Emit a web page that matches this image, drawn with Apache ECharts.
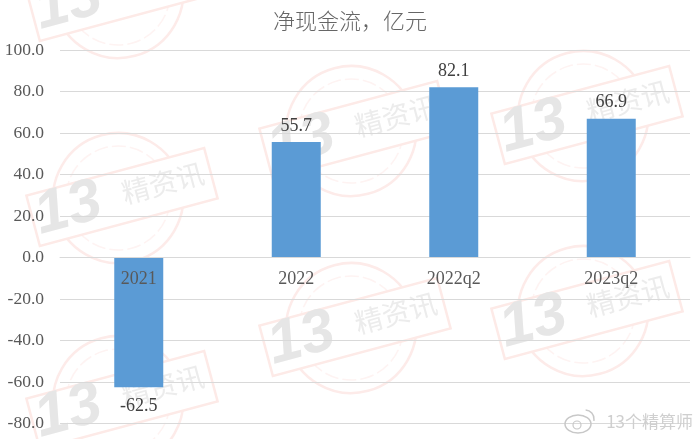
<!DOCTYPE html>
<html>
<head>
<meta charset="utf-8">
<title>净现金流</title>
<script src="https://cdn.jsdelivr.net/npm/echarts@6/dist/echarts.min.js"></script>
<style>
html,body{margin:0;padding:0;background:#fff;}
#main{width:700px;height:439px;}
</style>
</head>
<body>
<div id="main"></div>
<script>
var categories = ['2021', '2022', '2022q2', '2023q2'];
var cashFlow = [-62.5, 55.7, 82.1, 66.9];
var titleText = '净现金流，亿元';
var stampNumber = '13';
var stampName = '精资讯';
var accountName = '13个精算师';

var serifFont = '"Liberation Serif", "Noto Sans CJK SC", serif';
var cjkFont = '"Noto Sans CJK SC", sans-serif';

// 水印印章
function makeStamp(x, y) {
    return {
        type: 'group',
        x: x,
        y: y,
        rotation: 15 * Math.PI / 180,
        silent: true,
        children: [
            {type: 'circle', z: -10, x: -4, y: 0, shape: {cx: 0, cy: 0, r: 65}, style: {fill: 'none', stroke: '#fdebe9', lineWidth: 2.5}},
            {type: 'circle', z: -10, x: -4, y: 0, shape: {cx: 0, cy: 0, r: 52}, style: {fill: 'none', stroke: '#fef3f2', lineWidth: 1.5, lineDash: [14, 4]}},
            {type: 'rect', z: -9, shape: {x: -92, y: -26, width: 184, height: 52}, style: {fill: '#fff', stroke: '#fdeae7', lineWidth: 2.5}},
            {type: 'text', z: -8, x: -55, y: -2, style: {text: stampNumber, fill: '#e6e6e6', font: 'italic bold 60px "Liberation Sans", sans-serif', align: 'center', verticalAlign: 'middle'}},
            {type: 'text', z: -8, x: 43, y: -3, style: {text: stampName, fill: '#ececec', font: '28px ' + cjkFont, align: 'center', verticalAlign: 'middle'}}
        ]
    };
}

var stamps = [[122, -8], [122, 197], [122, 400], [355, 130], [355, 327], [587, 115], [587, 310]];
var graphics = [];
for (var i = 0; i < stamps.length; i++) {
    graphics.push(makeStamp(stamps[i][0], stamps[i][1]));
}

// 右下角微博水印
graphics.push({type: 'ellipse', z: 20, silent: true, shape: {cx: 578, cy: 424, rx: 13, ry: 9}, style: {fill: 'none', stroke: '#c8c8c8', lineWidth: 1.5}});
graphics.push({type: 'circle', z: 20, silent: true, shape: {cx: 577, cy: 425, r: 4}, style: {fill: 'none', stroke: '#c8c8c8', lineWidth: 1.2}});
graphics.push({type: 'arc', z: 20, silent: true, shape: {cx: 585, cy: 419, r: 9, startAngle: -1.5, endAngle: 0.2}, style: {fill: 'none', stroke: '#c8c8c8', lineWidth: 1.5}});
graphics.push({type: 'text', z: 20, silent: true, x: 693, y: 422, style: {text: accountName, fill: '#cfcfcf', font: '17px ' + cjkFont, align: 'right', verticalAlign: 'middle'}});

// 负值的标签离柱子稍远一点
var barData = cashFlow.map(function (v) {
    return v < 0 ? {value: v, label: {distance: 10}} : v;
});

var myChart = echarts.init(document.getElementById('main'));

var option = {
    animation: false,
    backgroundColor: '#fff',
    title: {
        text: titleText,
        left: 'center',
        top: 5,
        textStyle: {color: '#666666', fontFamily: cjkFont, fontSize: 22, fontWeight: 300}
    },
    grid: {left: 60, right: 10, top: 50, bottom: 15.5, outerBoundsMode: 'none'},
    xAxis: {
        type: 'category',
        data: categories,
        z: 5,
        axisTick: {show: false},
        axisLine: {onZero: true, lineStyle: {color: '#d9d9d9'}},
        // 标签放在0轴下方，不放在图表底部
        axisLabel: {color: '#595959', fontFamily: serifFont, fontSize: 18, margin: -153, interval: 0}
    },
    yAxis: {
        type: 'value',
        min: -80,
        max: 100,
        interval: 20,
        axisLine: {show: false},
        axisTick: {show: false},
        axisLabel: {
            color: '#595959',
            fontFamily: serifFont,
            fontSize: 17.5,
            margin: 16,
            formatter: function (v) { return v.toFixed(1); }
        },
        splitLine: {lineStyle: {color: '#d9d9d9', width: 1}}
    },
    series: [{
        type: 'bar',
        data: barData,
        barWidth: 49,
        itemStyle: {color: '#5b9bd5'},
        label: {
            show: true,
            position: 'outside',
            distance: 7,
            color: '#404040',
            fontFamily: serifFont,
            fontSize: 18,
            formatter: function (p) { return p.value.toFixed(1); }
        }
    }],
    graphic: graphics
};

myChart.setOption(option);
</script>
</body>
</html>
